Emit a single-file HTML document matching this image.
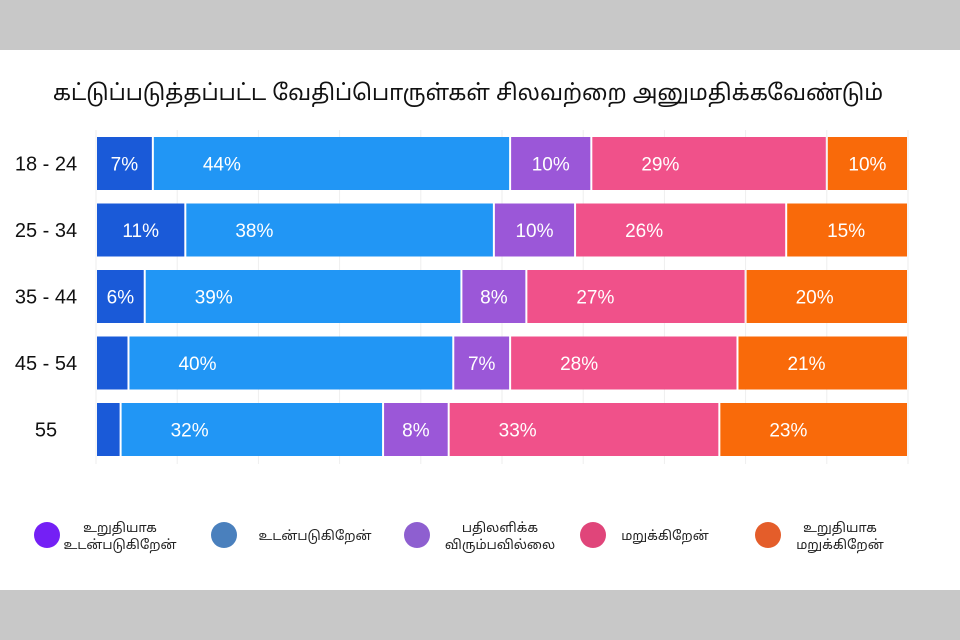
<!DOCTYPE html>
<html><head><meta charset="utf-8">
<style>
body{margin:0;width:960px;height:640px;background:#fff;overflow:hidden;font-family:"Liberation Sans","Noto Sans Tamil","Lohit Tamil",sans-serif;}
.band{position:absolute;left:0;width:960px;background:#c8c8c8;}
</style></head>
<body>
<div class="band" style="top:0;height:50px"></div>
<div class="band" style="top:590px;height:50px"></div>
<svg id="chart" width="960" height="640" style="position:absolute;left:0;top:0">
<text x="468" y="100" text-anchor="middle" font-size="22" fill="#111">கட்டுப்படுத்தப்பட்ட வேதிப்பொருள்கள் சிலவற்றை அனுமதிக்கவேண்டும்</text>
</svg>
<script>
const categories=["18 - 24","25 - 34","35 - 44","45 - 54","55"];
const agreeStrong=[7,11,6,4,3];
const agree=[44,38,39,40,32];
const neutral=[10,10,8,7,8];
const disagree=[29,26,27,28,33];
const disagreeStrong=[10,15,20,21,23];
const showFirst=[true,true,true,false,false];
const seriesNames=["உறுதியாக உடன்படுகிறேன்","உடன்படுகிறேன்","பதிலளிக்க விரும்பவில்லை","மறுக்கிறேன்","உறுதியாக மறுக்கிறேன்"];
const series=[agreeStrong,agree,neutral,disagree,disagreeStrong];
const colors=["#1a5ad8","#2196f5","#9b57d8","#f0518a","#f96a0a"];
const legendColors=["#7420f5","#4a80bd","#8e5fd0","#e0457a","#e45d2a"];
const NS="http://www.w3.org/2000/svg";
const svg=document.getElementById('chart');
const x0=96,x1=908;
const xs=v=>x0+(x1-x0)*v/100;
const rowTop=i=>137+i*66.5, bh=53;
function mk(tag,attrs,parent){const e=document.createElementNS(NS,tag);for(const k in attrs)e.setAttribute(k,attrs[k]);(parent||svg).appendChild(e);return e;}
for(let t=0;t<=100;t+=10){
 const l=mk('line',{x1:xs(t),x2:xs(t),y1:130,y2:464,stroke:'#eee','stroke-width':1});
 
 
}
categories.forEach((c,i)=>{
 const y=rowTop(i);
 const lab=mk('text',{x:46,y:y+bh/2+7,'text-anchor':'middle','font-size':20,fill:'#111'});
 lab.textContent=c;
 
 
 const total=series.reduce((s,a)=>s+a[i],0);
 let cum=0;
 series.forEach((s,j)=>{
  const v=s[i];const a=xs(cum*100/total),b=xs((cum+v)*100/total);cum+=v;
  const r=mk('rect',{x:a+1,y:y,width:Math.max(0,b-a-2),height:bh,fill:colors[j]});
  
  
  if(j===0&&!showFirst[i])return;
  const w=b-a;
  const tx=w<110?(a+b)/2:a+Math.min(50,w/2-20);
  const t=mk('text',{x:tx,y:y+bh/2+7,'text-anchor':w<110?'middle':'start','font-size':19,fill:'#fff'});
  t.textContent=v+'%';
  
  
 });
});
const lcx=[47,224,417,593,768],ltx=[120,315,500,665,840];
seriesNames.forEach((n,j)=>{
 const c=mk('circle',{cx:lcx[j],cy:535,r:13,fill:legendColors[j]});
 
 
 const words=n.split(' ');
 const t=mk('text',{x:ltx[j],y:words.length>1?532:540,'text-anchor':'middle','font-size':13,fill:'#222'});
 
 
 words.forEach((w,k)=>{const ts=mk('tspan',{x:ltx[j],dy:k?17:0},t);ts.textContent=w;});
});
</script>
</body></html>
